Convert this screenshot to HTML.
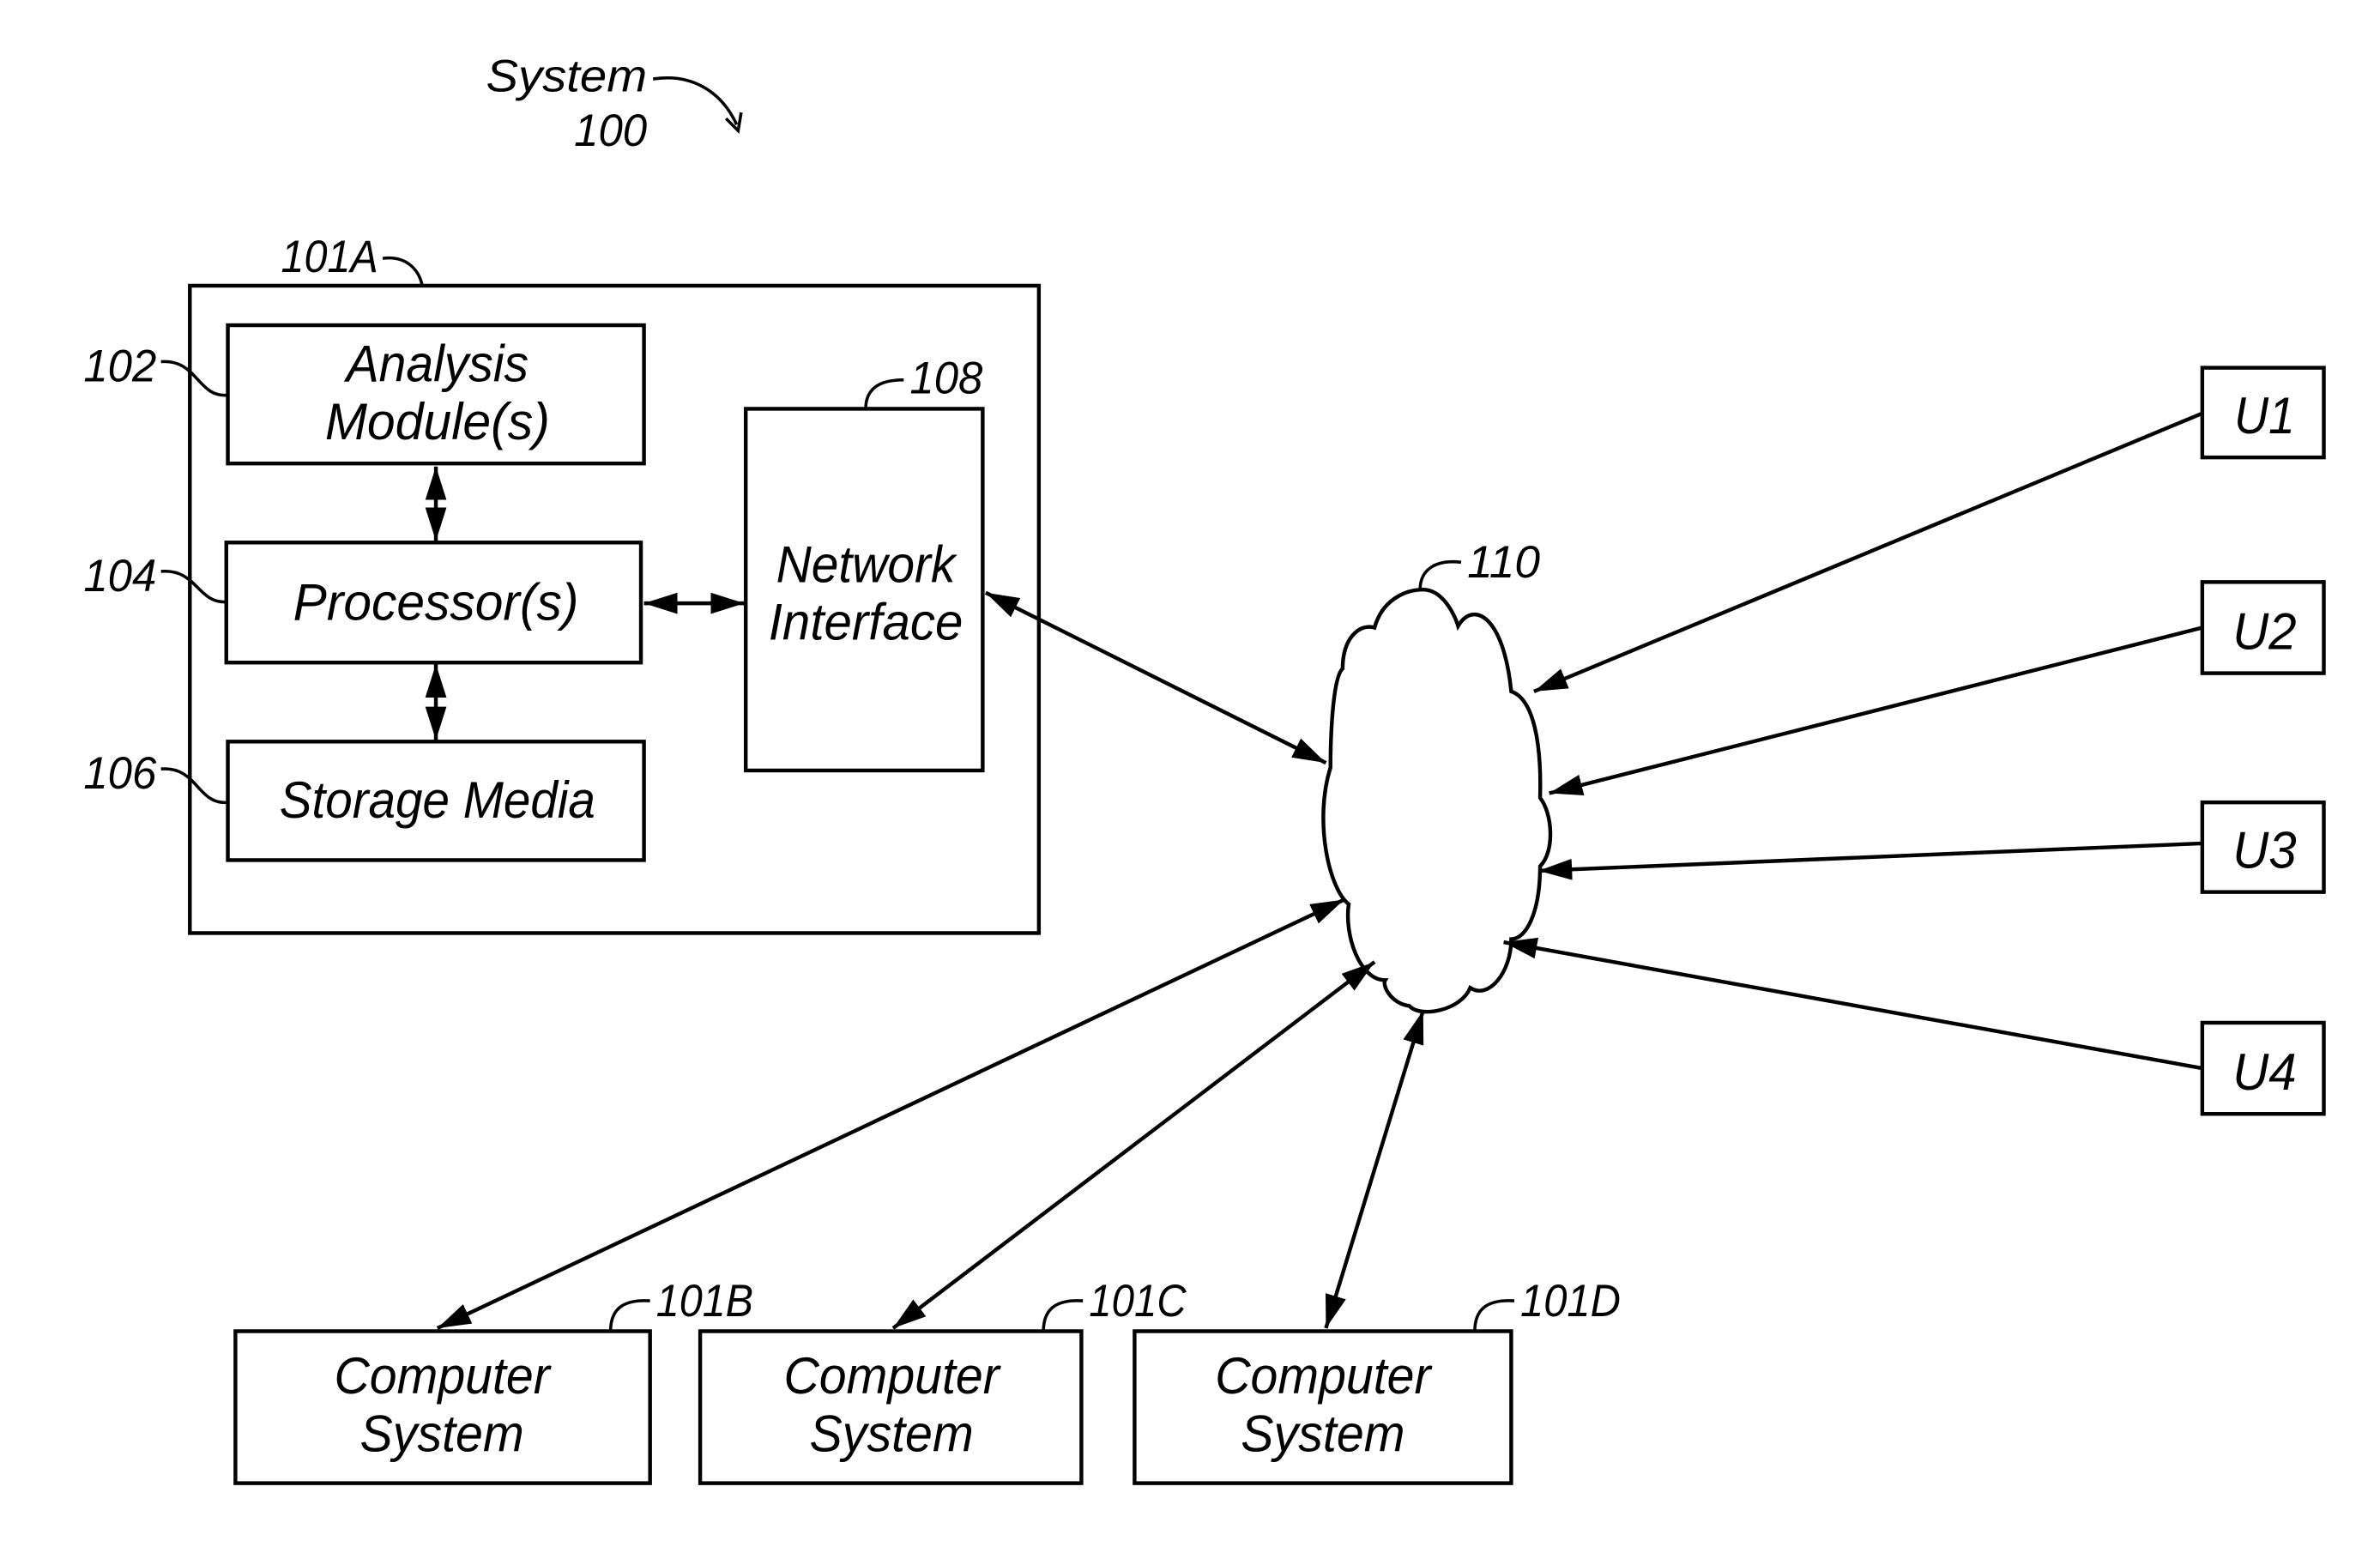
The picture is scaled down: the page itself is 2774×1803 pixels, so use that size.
<!DOCTYPE html>
<html><head><style>html,body{margin:0;padding:0;background:#fff}svg{display:block}</style></head>
<body>
<svg width="2774" height="1803" viewBox="0 0 1567 1018" preserveAspectRatio="none" xmlns="http://www.w3.org/2000/svg">
<defs>
<marker id="h" viewBox="0 0 22 14" refX="22" refY="7" markerWidth="22" markerHeight="14" orient="auto-start-reverse" markerUnits="userSpaceOnUse">
<path d="M0,0 L22,7 L0,14 Z" fill="#000"/>
</marker>
</defs>
<g fill="none" stroke="#000" stroke-width="2.5">
<rect x="125" y="188" width="559" height="426"/>
<rect x="150" y="214" width="274" height="91"/>
<rect x="149" y="357" width="273" height="79"/>
<rect x="150" y="488" width="274" height="78"/>
<rect x="491" y="269" width="156" height="238"/>
<rect x="1450" y="242" width="80" height="59"/>
<rect x="1450" y="383" width="80" height="60"/>
<rect x="1450" y="528" width="80" height="59"/>
<rect x="1450" y="673" width="80" height="60"/>
<rect x="155" y="876" width="273" height="100"/>
<rect x="461" y="876" width="251" height="100"/>
<rect x="747" y="876" width="248" height="100"/>
<path d="M937,388 C950,388 958,405 960,412 C970,395 990,405 995,455 C1010,460 1015,490 1014,525 C1022,535 1024,560 1014,570 C1014,600 1005,618 995,618 C995,640 980,658 968,650 C962,665 935,670 928,662 C915,660 910,648 912,645 C895,645 885,615 888,595 C875,585 865,540 876,505 C876,480 878,445 884,440 C884,420 895,410 905,413 C910,395 925,388 937,388 Z"/>
</g>
<g stroke="#000" stroke-width="2.5" fill="none" marker-end="url(#h)">
<line x1="287" y1="307" x2="287" y2="356" marker-start="url(#h)"/>
<line x1="287" y1="437" x2="287" y2="487" marker-start="url(#h)"/>
<line x1="424" y1="397" x2="490" y2="397" marker-start="url(#h)"/>
<line x1="649" y1="390" x2="873" y2="502" marker-start="url(#h)"/>
<line x1="1450" y1="272" x2="1010" y2="455"/>
<line x1="1450" y1="413" x2="1020" y2="522"/>
<line x1="1450" y1="555" x2="1013" y2="573"/>
<line x1="1450" y1="703" x2="990" y2="620"/>
<line x1="288" y1="874" x2="885" y2="592" marker-start="url(#h)"/>
<line x1="588" y1="874" x2="905" y2="633" marker-start="url(#h)"/>
<line x1="873" y1="874" x2="937" y2="665" marker-start="url(#h)"/>
</g>
<g stroke="#000" stroke-width="2" fill="none">
<path d="M430,52 C455,48 475,60 485,82"/>
<path d="M478,78 L486,86 L488,74" stroke-width="2"/>
<path d="M252,170 C268,168 276,178 278,188"/>
<path d="M106,238 C130,236 130,262 150,260"/>
<path d="M106,376 C130,374 130,398 150,396"/>
<path d="M106,506 C130,504 130,530 150,528"/>
<path d="M570,269 C570,255 580,250 595,250"/>
<path d="M935,388 C935,375 945,368 962,370"/>
<path d="M402,876 C402,860 412,855 428,856"/>
<path d="M687,876 C687,860 697,855 713,856"/>
<path d="M971,876 C971,860 981,855 997,856"/>
</g>
<g font-family="Liberation Sans, sans-serif" font-style="italic" fill="#000" text-anchor="middle" font-size="34">
<text x="288" y="251" textLength="120" lengthAdjust="spacingAndGlyphs">Analysis</text>
<text x="288" y="289" textLength="148" lengthAdjust="spacingAndGlyphs">Module(s)</text>
<text x="287" y="408" textLength="188" lengthAdjust="spacingAndGlyphs">Processor(s)</text>
<text x="288" y="538" textLength="208" lengthAdjust="spacingAndGlyphs">Storage Media</text>
<text x="570" y="383" textLength="118" lengthAdjust="spacingAndGlyphs">Network</text>
<text x="570" y="421" textLength="128" lengthAdjust="spacingAndGlyphs">Interface</text>
<text x="1491" y="285" textLength="40" lengthAdjust="spacingAndGlyphs">U1</text>
<text x="1491" y="427" textLength="42" lengthAdjust="spacingAndGlyphs">U2</text>
<text x="1491" y="571" textLength="42" lengthAdjust="spacingAndGlyphs">U3</text>
<text x="1491" y="717" textLength="42" lengthAdjust="spacingAndGlyphs">U4</text>
<text x="291" y="917" textLength="142" lengthAdjust="spacingAndGlyphs">Computer</text>
<text x="291" y="955" textLength="108" lengthAdjust="spacingAndGlyphs">System</text>
<text x="587" y="917" textLength="142" lengthAdjust="spacingAndGlyphs">Computer</text>
<text x="587" y="955" textLength="108" lengthAdjust="spacingAndGlyphs">System</text>
<text x="871" y="917" textLength="142" lengthAdjust="spacingAndGlyphs">Computer</text>
<text x="871" y="955" textLength="108" lengthAdjust="spacingAndGlyphs">System</text>
</g>
<g font-family="Liberation Sans, sans-serif" font-style="italic" fill="#000" font-size="30">
<text x="320" y="60" textLength="106" lengthAdjust="spacingAndGlyphs">System</text>
<text x="378" y="96" textLength="48" lengthAdjust="spacingAndGlyphs">100</text>
<text x="185" y="179" textLength="64" lengthAdjust="spacingAndGlyphs">101A</text>
<text x="55" y="251" textLength="48" lengthAdjust="spacingAndGlyphs">102</text>
<text x="55" y="389" textLength="48" lengthAdjust="spacingAndGlyphs">104</text>
<text x="55" y="519" textLength="48" lengthAdjust="spacingAndGlyphs">106</text>
<text x="599" y="259" textLength="48" lengthAdjust="spacingAndGlyphs">108</text>
<text x="966" y="380" textLength="48" lengthAdjust="spacingAndGlyphs">110</text>
<text x="432" y="866" textLength="64" lengthAdjust="spacingAndGlyphs">101B</text>
<text x="717" y="866" textLength="64" lengthAdjust="spacingAndGlyphs">101C</text>
<text x="1001" y="866" textLength="66" lengthAdjust="spacingAndGlyphs">101D</text>
</g>
</svg>
</body></html>
